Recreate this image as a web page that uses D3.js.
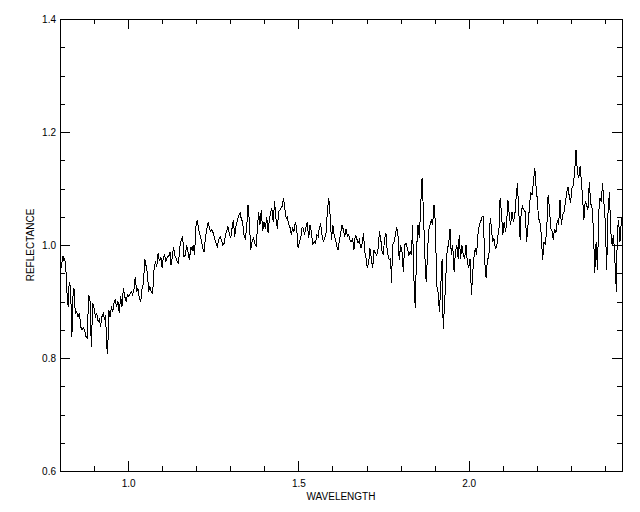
<!DOCTYPE html>
<html>
<head>
<meta charset="utf-8">
<script src="https://cdn.jsdelivr.net/npm/d3@7"></script>
<style>
  html, body { margin: 0; padding: 0; background: #fff; }
  svg { display: block; }
  text { font-family: "Liberation Sans", Arial, sans-serif; }
</style>
</head>
<body>
<svg id="chart" width="640" height="512"></svg>
<script>
// ---- data ----
const wavelength = [
0.801,0.809,0.812,0.814,0.818,0.821,0.824,0.827,0.831,0.835,0.838,0.841,0.845,0.849,0.853,0.857,0.861,0.865,0.869,0.872,
0.876,0.880,0.884,0.888,0.892,0.896,0.900,0.904,0.908,0.912,0.916,0.919,0.923,0.927,0.931,0.934,0.937,0.940,0.943,0.947,
0.951,0.955,0.959,0.962,0.966,0.970,0.974,0.978,0.982,0.986,0.990,0.994,0.998,1.002,1.006,1.010,1.013,1.017,1.021,1.025,
1.029,1.033,1.037,1.041,1.045,1.049,1.053,1.057,1.060,1.064,1.068,1.072,1.076,1.080,1.084,1.088,1.092,1.096,1.100,1.103,
1.107,1.111,1.115,1.119,1.123,1.126,1.130,1.133,
1.137,1.141,1.145,1.148,1.152,1.156,1.160,1.164,1.168,1.172,1.176,1.180,1.184,1.188,1.191,1.195,1.199,1.203,1.207,1.211,
1.215,1.219,1.223,1.227,1.231,1.235,1.238,1.242,1.246,1.250,1.254,1.258,1.262,1.266,1.270,1.274,1.278,1.282,1.285,1.289,
1.293,1.297,1.301,1.305,1.309,1.313,1.317,1.321,1.325,1.329,1.332,1.336,1.340,1.344,1.348,1.352,1.356,1.360,1.364,1.368,
1.372,1.376,1.379,1.383,1.387,1.391,1.395,1.399,1.403,1.407,1.411,1.415,1.419,1.422,1.426,1.430,1.434,1.438,1.442,1.446,
1.448,1.452,1.456,1.460,1.464,1.467,1.471,1.475,1.479,1.483,1.487,1.491,1.495,1.499,1.503,1.507,1.511,1.514,1.518,1.522,
1.526,1.530,1.534,1.538,1.542,1.546,1.550,1.554,1.558,1.561,1.565,1.569,1.573,1.577,1.581,1.585,1.589,1.593,1.597,1.601,
1.605,1.608,1.612,1.616,1.620,1.624,1.628,1.632,1.636,1.640,1.644,1.648,1.651,1.655,1.659,1.663,1.667,1.671,1.675,1.679,
1.683,1.687,1.691,1.695,1.698,1.702,1.706,1.710,1.714,1.718,1.722,1.726,1.730,1.734,1.738,1.742,1.745,1.749,1.753,1.757,
1.761,1.765,1.769,
1.771,1.773,1.777,1.781,1.785,1.788,1.792,1.796,1.800,1.804,1.808,1.812,1.816,1.820,1.824,1.828,1.832,1.835,1.839,1.843,
1.847,1.851,1.855,1.859,1.863,1.867,1.871,1.875,1.879,1.882,1.886,1.890,1.894,1.898,1.902,1.906,1.910,1.914,1.918,1.922,
1.925,1.929,1.933,1.937,1.941,1.945,1.949,1.953,1.957,1.961,1.965,1.969,1.972,1.976,1.980,1.984,1.988,1.992,1.996,2.000,
2.004,2.008,2.012,2.016,2.019,2.023,2.027,2.031,2.035,2.039,2.043,2.047,2.051,2.055,2.059,2.063,2.066,2.070,2.074,2.078,
2.082,2.086,2.090,2.092,2.096,2.100,2.104,2.108,
2.111,2.115,2.119,2.123,2.127,2.131,2.135,2.139,2.143,2.147,2.151,2.154,2.158,2.162,2.166,2.170,2.174,2.178,2.182,2.186,
2.190,2.194,2.198,2.201,2.205,2.209,2.213,2.217,2.221,2.225,2.229,2.233,2.237,2.241,2.245,2.248,2.252,2.256,2.260,2.264,
2.268,2.272,2.276,2.280,2.284,2.288,2.292,2.295,2.299,2.303,2.307,2.311,2.315,2.319,2.323,2.327,2.331,2.335,2.338,2.342,
2.346,2.350,2.354,2.358,2.362,2.366,2.370,2.374,2.378,2.382,2.385,2.389,2.393,2.397,2.401,2.405,2.409,2.413,2.417,2.421,
2.425,2.428,2.432,2.434,2.436,2.440,2.444,2.449
];
const reflectance = [
0.953,0.981,0.971,0.976,0.950,0.909,0.891,0.935,0.926,0.838,0.909,0.923,0.879,0.882,0.873,0.879,0.855,0.850,0.853,0.850,
0.838,0.835,0.912,0.903,0.820,0.897,0.888,0.873,0.879,0.864,0.870,0.855,0.873,0.879,0.867,0.876,0.820,0.808,0.885,0.873,
0.891,0.882,0.900,0.903,0.891,0.900,0.879,0.909,0.891,0.923,0.909,0.900,0.912,0.909,0.914,0.917,0.912,0.920,0.944,0.917,
0.923,0.906,0.900,0.923,0.932,0.976,0.962,0.950,0.917,0.926,0.917,0.914,0.956,0.971,0.962,0.985,0.971,0.979,0.959,0.976,
0.982,0.971,0.979,0.979,0.988,0.965,0.979,0.997,
0.982,0.976,0.970,0.968,0.997,1.009,1.015,0.979,0.982,1.000,0.988,0.973,0.997,0.991,1.000,0.982,1.032,1.044,1.027,1.018,
1.009,0.994,0.988,1.012,1.029,1.041,1.032,1.024,1.027,1.021,1.012,1.003,0.997,1.009,1.015,1.009,1.000,1.003,1.015,1.024,
1.032,1.021,1.012,1.029,1.044,1.015,1.035,1.044,1.053,1.056,1.047,1.041,1.018,1.012,1.029,1.071,1.041,0.991,1.006,1.012,
1.003,0.997,1.024,1.059,1.035,1.062,1.024,1.041,1.029,1.050,1.021,1.047,1.059,1.065,1.041,1.077,1.047,1.029,1.059,1.062,
1.065,1.068,1.083,1.065,1.047,1.050,1.038,1.032,1.018,1.029,1.024,1.041,1.029,0.994,1.006,1.012,1.032,1.029,1.018,1.032,
1.041,1.012,1.035,1.024,1.000,1.006,1.003,1.018,1.015,1.029,1.038,1.018,1.006,1.012,1.021,1.059,1.083,1.053,1.009,1.035,
1.018,1.012,1.000,0.991,1.006,1.021,1.035,1.027,1.015,1.029,1.015,1.018,1.009,1.006,1.012,0.991,1.018,1.012,1.003,1.009,
0.994,1.003,1.021,0.988,0.979,0.959,0.968,0.994,0.976,0.959,0.991,0.985,0.982,0.994,1.024,1.009,0.991,0.982,1.012,1.021,
0.988,0.976,0.973,
0.976,0.932,1.000,1.006,1.018,1.032,1.021,0.973,1.000,0.988,0.953,1.000,1.003,0.994,0.982,0.988,0.982,1.035,0.941,0.888,
0.994,1.035,1.012,1.071,1.118,1.059,0.982,0.935,0.982,1.024,1.035,1.044,1.035,1.071,1.041,0.929,0.917,0.882,0.929,0.976,
0.852,0.894,0.947,0.994,1.000,1.029,0.982,1.000,0.953,0.988,1.000,0.976,1.018,0.976,1.000,0.982,0.976,1.000,0.970,0.959,
0.976,0.912,0.953,0.982,0.994,0.982,1.018,1.035,1.041,1.050,1.050,0.970,0.941,0.976,0.976,1.047,1.035,1.006,1.012,0.994,
0.997,1.018,1.035,1.083,1.059,1.018,1.041,1.024,
1.035,1.080,1.053,1.035,1.059,1.041,1.050,1.083,1.109,1.059,1.009,1.059,1.068,1.062,1.059,1.006,1.035,1.065,1.094,1.088,
1.112,1.136,1.100,1.083,1.047,1.041,1.018,0.973,1.006,1.000,1.029,1.088,1.065,1.029,1.024,1.009,1.029,1.021,1.044,1.035,
1.080,1.035,1.053,1.059,1.077,1.094,1.103,1.086,1.074,1.100,1.106,1.130,1.168,1.130,1.118,1.139,1.112,1.077,1.044,1.077,
1.071,1.062,1.112,1.074,1.065,1.029,0.950,1.006,0.956,1.059,1.083,1.077,1.109,1.074,1.041,0.956,1.059,1.094,1.024,1.000,
1.018,0.988,0.935,0.917,1.024,1.044,1.006,1.050
];
const xMajorTicks = [1.0, 1.5, 2.0];
const xMinorTicks = [0.9, 1.1, 1.2, 1.3, 1.4, 1.6, 1.7, 1.8, 1.9, 2.1, 2.2, 2.3, 2.4];
const yMajorTicks = [0.6, 0.8, 1.0, 1.2, 1.4];
const yMinorTicks = [0.65, 0.7, 0.75, 0.85, 0.9, 0.95, 1.05, 1.1, 1.15, 1.25, 1.3, 1.35];
const xTitle = "WAVELENGTH";
const yTitle = "REFLECTANCE";

// ---- layout ----
const L = 60, R = 622, T = 19, B = 471;
const svg = d3.select("#chart");
const x = d3.scaleLinear().domain([0.8, 2.45]).range([L, R]);
const y = d3.scaleLinear().domain([0.6, 1.4]).range([B, T]);
const fmt = d3.format(".1f");

function styleAxis(g) {
  g.selectAll("path.domain").attr("stroke", "#000").attr("stroke-width", 1).attr("shape-rendering", "crispEdges");
  g.selectAll(".tick line").attr("stroke", "#000").attr("stroke-width", 1).attr("shape-rendering", "crispEdges");
  g.selectAll("text").attr("fill", "#000").style("font-family", "'Liberation Sans', Arial, sans-serif").style("font-size", "10px");
}

// bottom
svg.append("g").attr("transform", `translate(0,${B})`)
  .call(d3.axisBottom(x).tickValues(xMinorTicks).tickSize(-5).tickSizeOuter(0).tickFormat(""))
  .call(styleAxis);
svg.append("g").attr("transform", `translate(0,${B})`)
  .call(d3.axisBottom(x).tickValues(xMajorTicks).tickSize(-10).tickSizeOuter(0).tickPadding(9).tickFormat(fmt))
  .call(styleAxis);
// top
svg.append("g").attr("transform", `translate(0,${T})`)
  .call(d3.axisTop(x).tickValues(xMinorTicks).tickSize(-5).tickSizeOuter(0).tickFormat(""))
  .call(styleAxis);
svg.append("g").attr("transform", `translate(0,${T})`)
  .call(d3.axisTop(x).tickValues(xMajorTicks).tickSize(-10).tickSizeOuter(0).tickFormat(""))
  .call(styleAxis);
// left
svg.append("g").attr("transform", `translate(${L},0)`)
  .call(d3.axisLeft(y).tickValues(yMinorTicks).tickSize(-5).tickSizeOuter(0).tickFormat(""))
  .call(styleAxis);
svg.append("g").attr("transform", `translate(${L},0)`)
  .call(d3.axisLeft(y).tickValues(yMajorTicks).tickSize(-10).tickSizeOuter(0).tickPadding(4).tickFormat(fmt))
  .call(styleAxis);
// right
svg.append("g").attr("transform", `translate(${R},0)`)
  .call(d3.axisRight(y).tickValues(yMinorTicks).tickSize(-5).tickSizeOuter(0).tickFormat(""))
  .call(styleAxis);
svg.append("g").attr("transform", `translate(${R},0)`)
  .call(d3.axisRight(y).tickValues(yMajorTicks).tickSize(-10).tickSizeOuter(0).tickFormat(""))
  .call(styleAxis);

// titles
svg.append("text").attr("x", (L + R) / 2).attr("y", 500).attr("text-anchor", "middle")
  .style("font-size", "10px").attr("fill", "#000").text(xTitle);
svg.append("text").attr("transform", `translate(34,${(T + B) / 2}) rotate(-90)`).attr("text-anchor", "middle")
  .style("font-size", "10px").attr("fill", "#000").text(yTitle);

// spectrum line
const pts = wavelength.map((w, i) => [w, reflectance[i]]);
svg.append("path").datum(pts)
  .attr("fill", "none").attr("stroke", "#000").attr("stroke-width", 1)
  .attr("shape-rendering", "crispEdges")
  .attr("d", d3.line().x(d => x(d[0])).y(d => y(d[1])));
</script>
</body>
</html>
